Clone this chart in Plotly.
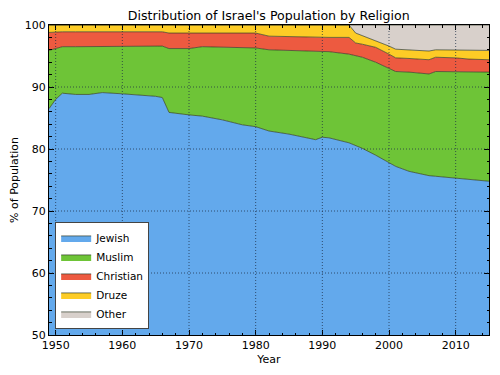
import plotly.graph_objects as go

years = [1949, 1950, 1951, 1953, 1955, 1957, 1960, 1963, 1965, 1966, 1967, 1970,
         1972, 1975, 1978, 1980, 1982, 1985, 1989, 1990, 1991, 1994, 1995, 1996,
         1998, 2000, 2001, 2003, 2006, 2007, 2010, 2012, 2015]

jewish = [86.5, 88.0, 89.0, 88.8, 88.8, 89.1, 88.9, 88.7, 88.5, 88.3, 85.9, 85.5,
          85.3, 84.7, 83.9, 83.6, 82.9, 82.4, 81.5, 81.9, 81.8, 81.0, 80.6, 80.1,
          79.0, 77.8, 77.2, 76.4, 75.7, 75.6, 75.3, 75.1, 74.8]
muslim = [9.4, 8.2, 7.5, 7.7, 7.7, 7.5, 7.6, 7.8, 8.1, 8.3, 10.3, 10.7,
          11.2, 11.7, 12.5, 12.7, 13.1, 13.5, 14.3, 13.9, 13.9, 14.3, 14.5, 14.7,
          15.0, 15.2, 15.3, 16.0, 16.4, 16.9, 17.2, 17.3, 17.6]
christian = [2.9, 2.7, 2.4, 2.4, 2.4, 2.3, 2.4, 2.4, 2.3, 2.3, 2.5, 2.5,
             2.3, 2.4, 2.4, 2.4, 2.2, 2.2, 2.2, 2.2, 2.3, 2.7, 2.0, 2.1,
             2.4, 2.3, 2.2, 2.2, 2.3, 2.3, 2.2, 2.1, 2.0]
druze = [1.2, 1.1, 1.1, 1.1, 1.1, 1.1, 1.1, 1.1, 1.1, 1.1, 1.3, 1.3,
         1.2, 1.2, 1.2, 1.3, 1.8, 1.9, 2.0, 2.0, 2.0, 2.0, 1.6, 1.4,
         1.1, 1.3, 1.4, 1.4, 1.4, 1.2, 1.3, 1.4, 1.5]
other = [0, 0, 0, 0, 0, 0, 0, 0, 0, 0, 0, 0,
         0, 0, 0, 0, 0, 0, 0, 0, 0, 0, 1.3, 1.7,
         2.5, 3.4, 3.9, 4.0, 4.2, 4.0, 4.0, 4.1, 4.1]

x_ticks = [1950, 1960, 1970, 1980, 1990, 2000, 2010]
y_ticks = [50, 60, 70, 80, 90, 100]

series = [("Jewish", jewish, "#63a9ec"),
          ("Muslim", muslim, "#6ec437"),
          ("Christian", christian, "#ed5a40"),
          ("Druze", druze, "#fdcc26"),
          ("Other", other, "#d8d0cb")]

fig = go.Figure()
for name, vals, col in series:
    fig.add_trace(go.Scatter(
        x=years, y=vals, name=name, mode="lines", stackgroup="one",
        fillcolor=col, line=dict(color="rgba(45,55,35,0.85)", width=0.8),
    ))

font = "DejaVu Sans, sans-serif"
axis_common = dict(
    showline=True, linecolor="black", linewidth=1, mirror="ticks",
    ticks="inside", ticklen=5, tickcolor="black",
    showgrid=False, zeroline=False, automargin=False, layer="above traces",
    tickfont=dict(family=font, size=11, color="black"),
    minor=dict(ticks="inside", ticklen=2.5, tickcolor="black", showgrid=False),
)

fig.update_xaxes(range=[1949, 2015], tickvals=x_ticks,
                 title=dict(text="Year", font=dict(family=font, size=11, color="black"), standoff=4),
                 **axis_common)
fig.update_yaxes(range=[50, 100], tickvals=y_ticks,
                 title=dict(text="% of Population", font=dict(family=font, size=11, color="black"), standoff=6),
                 **axis_common)
fig.update_xaxes(minor_dtick=2, minor_tick0=1950)
fig.update_yaxes(minor_dtick=2, minor_tick0=50)

# fine dotted grid drawn above the filled areas (as in the reference)
grid_line = dict(color="rgba(30,45,70,0.75)", width=1, dash="1px,2px")
for xv in x_ticks:
    fig.add_shape(type="line", xref="x", yref="paper", x0=xv, x1=xv, y0=0, y1=1,
                  line=grid_line, layer="above")
for yv in y_ticks[1:-1]:
    fig.add_shape(type="line", xref="paper", yref="y", x0=0, x1=1, y0=yv, y1=yv,
                  line=grid_line, layer="above")

# the page body has an 8px margin, so the figure is sized/offset to compensate
fig.update_layout(
    width=492, height=367,
    margin=dict(l=41, r=11, t=17, b=40, autoexpand=False),
    paper_bgcolor="white", plot_bgcolor="white",
    title=dict(text="Distribution of Israel's Population by Religion",
               font=dict(family=font, size=12.6, color="black"),
               x=0.530, xanchor="center", y=0.978, yanchor="middle", automargin=False),
    showlegend=True,
    legend=dict(x=0.014, y=0.018, xanchor="left", yanchor="bottom",
                bgcolor="white", bordercolor="#444", borderwidth=1,
                font=dict(family=font, size=10.5, color="black"),
                traceorder="normal", itemwidth=30, tracegroupgap=0),
)

fig.write_html("out.html")
